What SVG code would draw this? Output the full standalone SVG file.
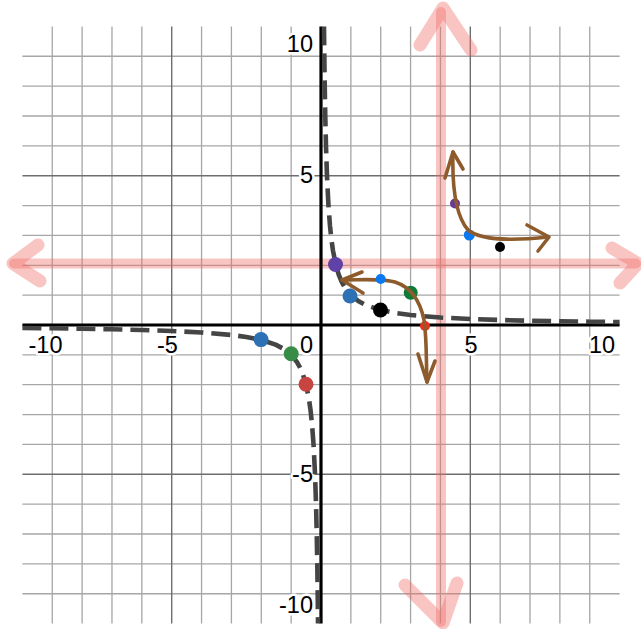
<svg xmlns="http://www.w3.org/2000/svg" width="641" height="629" viewBox="0 0 641 629">
<style>
.minor{stroke:#a6a6a6;stroke-width:1.3;fill:none}
.major{stroke:#6e6e6e;stroke-width:1.4;fill:none}
.axis{stroke:#000;stroke-width:3.2;fill:none}
.pink{stroke:#f06e69;stroke-opacity:0.4;fill:none;stroke-linecap:round;stroke-linejoin:round}
.curve{stroke:#454545;stroke-width:4.6;fill:none;stroke-dasharray:19 8}
.pen{stroke:#8e5c2c;stroke-width:3.6;fill:none;stroke-linecap:round;stroke-linejoin:round}
.lbl{font-family:"Liberation Sans",Arial,sans-serif;font-size:23.5px;fill:#000;stroke:#fff;stroke-width:5;paint-order:stroke;stroke-linejoin:round}
</style>
<rect width="641" height="629" fill="#fff"/>
<g id="grid">
<g class="minor">
<path d="M52.26 26.5V623.5M82.12 26.5V623.5M111.98 26.5V623.5M141.84 26.5V623.5M201.56 26.5V623.5M231.42 26.5V623.5M261.28 26.5V623.5M291.14 26.5V623.5M350.86 26.5V623.5M380.72 26.5V623.5M410.58 26.5V623.5M440.44 26.5V623.5M500.16 26.5V623.5M530.02 26.5V623.5M559.88 26.5V623.5M589.74 26.5V623.5"/>
<path d="M22.4 56.26H619.6M22.4 86.12H619.6M22.4 115.98H619.6M22.4 145.84H619.6M22.4 205.56H619.6M22.4 235.42H619.6M22.4 265.28H619.6M22.4 295.14H619.6M22.4 354.86H619.6M22.4 384.72H619.6M22.4 414.58H619.6M22.4 444.44H619.6M22.4 504.16H619.6M22.4 534.02H619.6M22.4 563.88H619.6M22.4 593.74H619.6"/>
</g>
<path class="major" d="M171.7 26.5V623.5M470.3 26.5V623.5M22.4 175.7H619.6M22.4 474.3H619.6"/>
</g>
<g id="asymptotes">
<path class="pink" stroke-width="10" d="M14 263.5H636"/>
<path class="pink" stroke-width="13" d="M38 245L13 263.5L40 281"/>
<path class="pink" stroke-width="13" d="M612 248L638 263.5L620 283"/>
<path class="pink" stroke-width="10" d="M441 12V622"/>
<path class="pink" stroke-width="13" d="M420 45L443 8L471 50"/>
<path class="pink" stroke-width="13" d="M405 585L443 623L457 583"/>
</g>
<g id="axes">
<path class="axis" d="M22.4 325H619.6M321 26.5V623.5"/>
</g>
<g id="labels">
<text class="lbl" x="313" y="52" text-anchor="end">10</text>
<text class="lbl" x="313" y="183" text-anchor="end">5</text>
<text class="lbl" x="313" y="482" text-anchor="end">-5</text>
<text class="lbl" x="313" y="613" text-anchor="end">-10</text>
<text class="lbl" x="45.5" y="353" text-anchor="middle">-10</text>
<text class="lbl" x="167.5" y="353" text-anchor="middle">-5</text>
<text class="lbl" x="313" y="353" text-anchor="end">0</text>
<text class="lbl" x="471" y="353" text-anchor="middle">5</text>
<text class="lbl" x="602" y="353" text-anchor="middle">10</text>
</g>
<g id="connectors">
<path class="curve" d="M323.99 26.4L324.28 53.55L324.73 86.1L325.27 115.98L325.98 145.84L326.97 175.7L328.47 205.56L329.96 225.47L331.45 239.69L332.94 250.35L335.93 265.28L338.92 275.23L341.9 282.34L344.89 287.68L350.86 295.14L358.33 301.11L365.79 305.09L380.72 310.07L395.65 313.06L410.58 315.05L440.44 317.54L470.3 319.03L500.16 320.02L530.02 320.73L559.88 321.27L589.74 321.68L619.6 322.01"/>
<path class="curve" d="M22.4 327.99L52.26 328.32L82.12 328.73L111.98 329.27L141.84 329.98L171.7 330.97L201.56 332.46L231.42 334.95L246.35 336.94L261.28 339.93L276.21 344.91L283.67 348.89L291.14 354.86L297.11 362.32L300.1 367.66L303.08 374.77L306.07 384.72L309.06 399.65L310.55 410.31L312.04 424.53L313.53 444.44L315.03 474.3L316.02 504.16L316.73 534.02L317.27 563.9L317.72 596.45L318.01 623.6"/>
</g>
<g id="points">
<circle id="p-purple" cx="335.5" cy="264.5" r="7.5" fill="#6042a6"/>
<circle id="p-blue" cx="350" cy="296" r="7.5" fill="#2d70b3"/>
<circle id="p-black" cx="380.5" cy="310" r="7.5" fill="#000"/>
<circle id="n-blue" cx="261" cy="339.6" r="7.5" fill="#2d70b3"/>
<circle id="n-green" cx="291.2" cy="353.8" r="7.5" fill="#388c46"/>
<circle id="n-red" cx="306" cy="384.3" r="7.5" fill="#c74440"/>
<circle id="t-green" cx="410.7" cy="292.7" r="7" fill="#0f7a35"/>
<circle id="t-red" cx="425" cy="326" r="5" fill="#f0301e"/>
<circle id="t-purple" cx="455" cy="203.5" r="5" fill="#6a3a9a"/>
<circle id="t-blue2" cx="469.3" cy="235" r="5.5" fill="#0a78f0"/>
<circle id="t-black" cx="500" cy="247" r="5" fill="#000"/>
</g>
<g id="sketch">
<path class="pen" d="M453 152C452 185 455 215 468 230C480 240 510 241 548 237"/>
<path class="pen" d="M445 178L453 152L463 169"/>
<path class="pen" d="M527 225L549 237L538 251"/>
<path class="pen" d="M342 280C360 280 380 278 395 282C410 287 420 300 424 320C427 340 426 360 427 382"/>
<path class="pen" d="M362 272L342 280L363 293"/>
<path class="pen" d="M418 354L427 382L435 361"/>
</g>
<circle id="t-blue1" cx="380.7" cy="279" r="5" fill="#0a78f0"/>
</svg>
